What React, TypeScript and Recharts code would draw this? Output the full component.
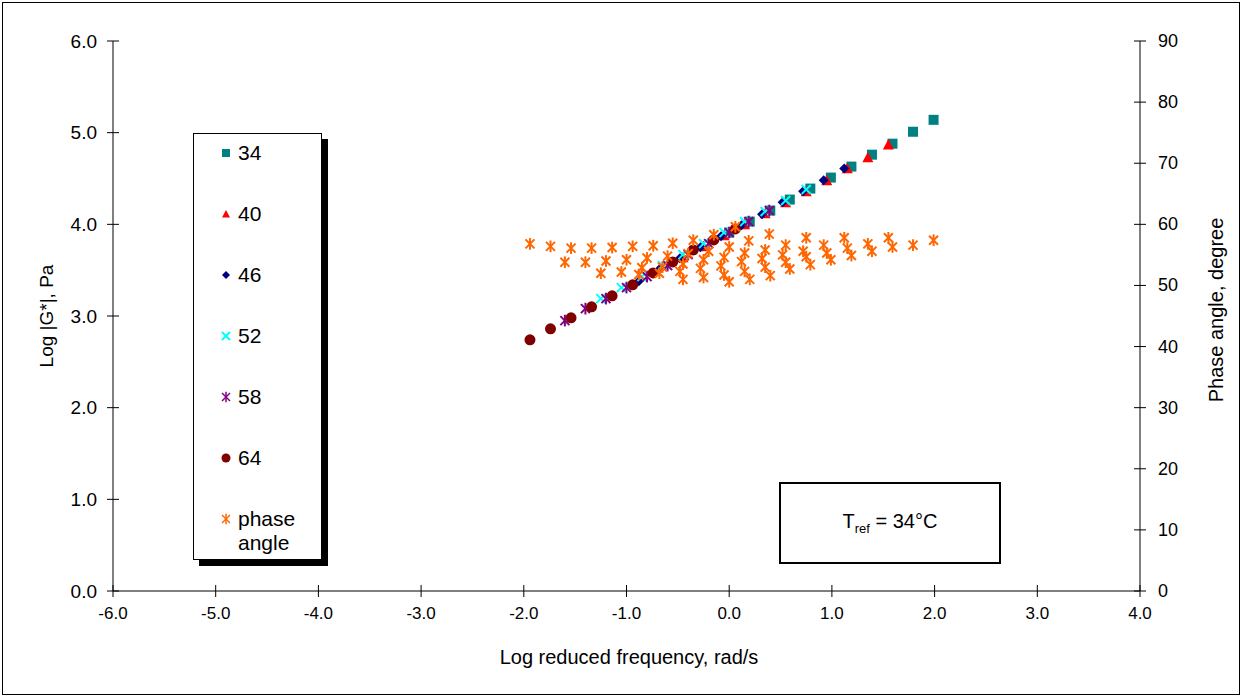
import React from 'react';
import { ScatterChart, Scatter, XAxis, YAxis, Legend } from 'recharts';

// reduced frequency (log, rad/s) per test temperature, shifted to Tref = 34°C
const freq34 = [0.0, 0.2, 0.4, 0.59, 0.79, 0.99, 1.19, 1.39, 1.59, 1.79, 1.99];
const freq40 = [-0.45, -0.25, -0.05, 0.15, 0.35, 0.55, 0.75, 0.95, 1.15, 1.35, 1.55];
const freq46 = [-0.88, -0.68, -0.48, -0.28, -0.08, 0.12, 0.32, 0.52, 0.72, 0.92, 1.12];
const freq52 = [-1.25, -1.05, -0.85, -0.65, -0.45, -0.25, -0.05, 0.15, 0.35, 0.55, 0.75];
const freq58 = [-1.6, -1.4, -1.2, -1.0, -0.8, -0.6, -0.4, -0.2, 0.0, 0.19, 0.39];
const freq64 = [-1.94, -1.74, -1.54, -1.34, -1.14, -0.94, -0.74, -0.55, -0.35, -0.15, 0.06];

// log |G*|, Pa
const logG34 = [3.91, 4.03, 4.15, 4.27, 4.39, 4.51, 4.63, 4.76, 4.88, 5.01, 5.14];
const logG40 = [3.64, 3.76, 3.88, 4.0, 4.12, 4.24, 4.36, 4.48, 4.61, 4.73, 4.87];
const logG46 = [3.38, 3.51, 3.63, 3.75, 3.87, 3.99, 4.11, 4.24, 4.36, 4.48, 4.61];
const logG52 = [3.19, 3.31, 3.43, 3.55, 3.67, 3.79, 3.91, 4.03, 4.14, 4.26, 4.38];
const logG58 = [2.95, 3.08, 3.19, 3.31, 3.43, 3.55, 3.67, 3.79, 3.91, 4.03, 4.15];
const logG64 = [2.74, 2.86, 2.98, 3.1, 3.22, 3.34, 3.47, 3.59, 3.72, 3.83, 3.95];

// phase angle, degree
const phase34 = [50.6, 51.0, 51.6, 52.7, 53.4, 54.2, 54.9, 55.6, 56.3, 56.6, 57.4];
const phase40 = [51.0, 51.3, 51.7, 52.3, 53.0, 53.8, 54.7, 55.3, 56.1, 56.8, 57.8];
const phase46 = [51.8, 52.0, 52.3, 52.8, 53.2, 53.9, 54.4, 55.0, 55.6, 56.6, 57.8];
const phase52 = [52.0, 52.2, 52.9, 53.0, 53.5, 54.2, 54.6, 55.3, 55.8, 56.6, 57.8];
const phase58 = [53.8, 53.8, 54.0, 54.2, 54.5, 54.8, 55.2, 55.6, 56.3, 57.3, 58.4];
const phase64 = [56.8, 56.4, 56.1, 56.1, 56.2, 56.4, 56.5, 56.9, 57.4, 58.3, 59.6];

const xTicks = [-6, -5, -4, -3, -2, -1, 0, 1, 2, 3, 4];
const gTicks = [0, 1, 2, 3, 4, 5, 6];
const phaseTicks = [0, 10, 20, 30, 40, 50, 60, 70, 80, 90];

const FONT = '"Liberation Sans", Arial, sans-serif';

const toPoints = (xs: number[], ys: number[]) => xs.map((x, i) => ({ x, y: ys[i] }));

const phaseData = [
    ...toPoints(freq34, phase34),
    ...toPoints(freq40, phase40),
    ...toPoints(freq46, phase46),
    ...toPoints(freq52, phase52),
    ...toPoints(freq58, phase58),
    ...toPoints(freq64, phase64),
];

// marker shapes, Excel style
const Square = ({ cx, cy, s = 5, fill }: any) => <rect x={cx - s} y={cy - s} width={s * 2} height={s * 2} fill={fill} />;
const Triangle = ({ cx, cy, s = 5.5, fill }: any) => (
    <polygon points={`${cx},${cy - s} ${cx + s},${cy + s * 0.9} ${cx - s},${cy + s * 0.9}`} fill={fill} />
);
const Diamond = ({ cx, cy, s = 5, fill }: any) => (
    <polygon points={`${cx},${cy - s} ${cx + s},${cy} ${cx},${cy + s} ${cx - s},${cy}`} fill={fill} />
);
const Cross = ({ cx, cy, s = 4.5, fill }: any) => (
    <g stroke={fill} strokeWidth={2}>
        <line x1={cx - s} y1={cy - s} x2={cx + s} y2={cy + s} />
        <line x1={cx - s} y1={cy + s} x2={cx + s} y2={cy - s} />
    </g>
);
const Star = ({ cx, cy, s = 4.5, fill, w = 2 }: any) => (
    <g stroke={fill} strokeWidth={w}>
        <line x1={cx - s} y1={cy - s} x2={cx + s} y2={cy + s} />
        <line x1={cx - s} y1={cy + s} x2={cx + s} y2={cy - s} />
        <line x1={cx} y1={cy - s * 1.3} x2={cx} y2={cy + s * 1.3} />
    </g>
);
const Dot = ({ cx, cy, s = 5.5, fill }: any) => <circle cx={cx} cy={cy} r={s} fill={fill} />;

const series = [
    { name: '34', data: toPoints(freq34, logG34), color: '#008080', Shape: Square },
    { name: '40', data: toPoints(freq40, logG40), color: '#FF0000', Shape: Triangle },
    { name: '46', data: toPoints(freq46, logG46), color: '#000080', Shape: Diamond },
    { name: '52', data: toPoints(freq52, logG52), color: '#00FFFF', Shape: Cross },
    { name: '58', data: toPoints(freq58, logG58), color: '#800080', Shape: Star },
    { name: '64', data: toPoints(freq64, logG64), color: '#800000', Shape: Dot },
];

// ticks crossing the axis line
const BottomTick = ({ x, y, payload }: any) => (
    <g>
        <line x1={x} x2={x} y1={y - 6} y2={y + 6} stroke="#000" />
        <text x={x} y={y + 22} textAnchor="middle" dominantBaseline="central" fontSize={17} fontFamily={FONT} fill="#000">
            {payload.value.toFixed(1)}
        </text>
    </g>
);
const LeftTick = ({ x, y, payload }: any) => (
    <g>
        <line x1={x - 6} x2={x + 6} y1={y} y2={y} stroke="#000" />
        <text x={x - 16} y={y} textAnchor="end" dominantBaseline="central" fontSize={19} fontFamily={FONT} fill="#000">
            {payload.value.toFixed(1)}
        </text>
    </g>
);
const RightTick = ({ x, y, payload }: any) => (
    <g>
        <line x1={x - 6} x2={x + 6} y1={y} y2={y} stroke="#000" />
        <text x={x + 18} y={y} textAnchor="start" dominantBaseline="central" fontSize={18} fontFamily={FONT} fill="#000">
            {payload.value}
        </text>
    </g>
);

const legendItems = [
    ...series.map(s => ({ label: s.name, color: s.color, Shape: s.Shape })),
    { label: 'phase angle', color: '#FF6600', Shape: Star },
];

const LegendBox = () => (
    <div
        style={{
            width: 129,
            height: 427,
            border: '1px solid #000',
            boxShadow: '6px 6px 0 #000',
            background: '#fff',
            position: 'relative',
            fontFamily: FONT,
            fontSize: 21,
            boxSizing: 'border-box',
        }}
    >
        {legendItems.map((item, i) => (
            <div key={item.label} style={{ position: 'absolute', left: 24, top: 7 + i * 61, display: 'flex', alignItems: 'flex-start' }}>
                <svg width={16} height={24}>
                    <item.Shape cx={8} cy={12} s={item.label === '64' ? 4.5 : 4} fill={item.color} w={1.5} />
                </svg>
                <span style={{ marginLeft: 4, lineHeight: '24px', width: 80 }}>
                    {item.label === 'phase angle' ? (
                        <>phase<br />angle</>
                    ) : (
                        item.label
                    )}
                </span>
            </div>
        ))}
    </div>
);

export default function App() {
    return (
        <div style={{ position: 'absolute', left: 0, top: 0, width: 1244, height: 698, background: '#fff', fontFamily: FONT }}>
            <style>{'body{margin:0}'}</style>
            <div style={{ position: 'absolute', left: 2, top: 2, width: 1238, height: 693, border: '1px solid #000', boxSizing: 'border-box' }} />
            <ScatterChart width={1244} height={698} margin={{ top: 41, right: 34, bottom: 57, left: 43 }}>
                <XAxis
                    type="number"
                    dataKey="x"
                    domain={[-6, 4]}
                    ticks={xTicks}
                    interval={0}
                    height={50}
                    tickSize={0}
                    tickMargin={0}
                    tickLine={false}
                    axisLine={{ stroke: '#000' }}
                    tick={<BottomTick />}
                />
                <YAxis
                    yAxisId="g"
                    type="number"
                    dataKey="y"
                    domain={[0, 6]}
                    ticks={gTicks}
                    interval={0}
                    width={70}
                    tickSize={0}
                    tickMargin={0}
                    tickLine={false}
                    axisLine={{ stroke: '#000' }}
                    tick={<LeftTick />}
                />
                <YAxis
                    yAxisId="phase"
                    orientation="right"
                    type="number"
                    dataKey="y"
                    domain={[0, 90]}
                    ticks={phaseTicks}
                    interval={0}
                    width={70}
                    tickSize={0}
                    tickMargin={0}
                    tickLine={false}
                    axisLine={{ stroke: '#000' }}
                    tick={<RightTick />}
                />
                <Legend
                    layout="vertical"
                    align="center"
                    verticalAlign="middle"
                    wrapperStyle={{ left: 193, top: 133, width: 135, height: 435 }}
                    content={() => <LegendBox />}
                />
                {series.map(s => (
                    <Scatter
                        key={s.name}
                        name={s.name}
                        yAxisId="g"
                        data={s.data}
                        fill={s.color}
                        isAnimationActive={false}
                        shape={(p: any) => <s.Shape cx={p.cx} cy={p.cy} fill={s.color} />}
                    />
                ))}
                <Scatter
                    name="phase angle"
                    yAxisId="phase"
                    data={phaseData}
                    fill="#FF6600"
                    isAnimationActive={false}
                    shape={(p: any) => <Star cx={p.cx} cy={p.cy} s={4.5} fill="#FF6600" />}
                />
            </ScatterChart>
            <div style={{ position: 'absolute', left: 47, top: 316, transform: 'translate(-50%, -50%) rotate(-90deg)', fontSize: 19, whiteSpace: 'nowrap' }}>
                Log |G*|, Pa
            </div>
            <div style={{ position: 'absolute', left: 1216, top: 310, transform: 'translate(-50%, -50%) rotate(-90deg)', fontSize: 20, whiteSpace: 'nowrap' }}>
                Phase angle, degree
            </div>
            <div style={{ position: 'absolute', left: 629, top: 657, transform: 'translate(-50%, -50%)', fontSize: 20, whiteSpace: 'nowrap' }}>
                Log reduced frequency, rad/s
            </div>
            <div
                style={{
                    position: 'absolute',
                    left: 779,
                    top: 482,
                    width: 222,
                    height: 82,
                    border: '2px solid #000',
                    boxSizing: 'border-box',
                    display: 'flex',
                    alignItems: 'center',
                    justifyContent: 'center',
                    fontSize: 20,
                }}
            >
                <span>
                    T<sub style={{ fontSize: 13 }}>ref</sub> = 34°C
                </span>
            </div>
        </div>
    );
}
